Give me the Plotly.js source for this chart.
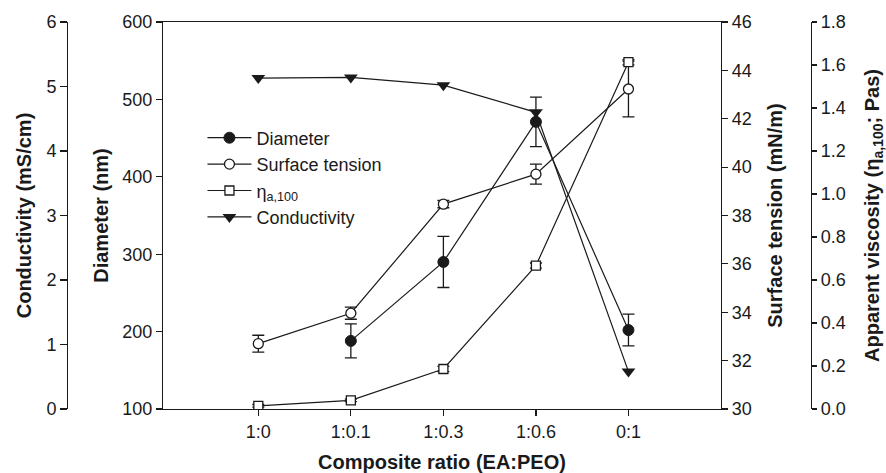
<!DOCTYPE html>
<html>
<head>
<meta charset="utf-8">
<script src="https://cdn.plot.ly/plotly-3.0.1.min.js"></script>
<style>html,body{margin:0;padding:0;background:#fff;}#chart{width:886px;height:473px;}</style>
</head>
<body>
<div id="chart"></div>
<script>
const categories = ["1:0", "1:0.1", "1:0.3", "1:0.6", "0:1"];
const catPos = [0, 1, 2, 3, 4];
const diameter = [null, 188, 290, 471, 202];
const diameterErr = [0, 22, 33, 32, 20.5];
const surfaceTension = [32.7, 33.96, 38.47, 39.71, 43.23];
const surfaceTensionErr = [0.35, 0.25, 0.15, 0.41, 1.15];
const viscosity = [0.015, 0.04, 0.186, 0.667, 1.613];
const viscosityErr = [0.006, 0.006, 0.012, 0.012, 0.012];
const conductivity = [5.13, 5.14, 5.02, 4.6, 0.58];

const W = 886, H = 473;
const FONT = "Liberation Sans, Arial, Helvetica, sans-serif";
const INK = "#1a1a1a";
const tickFont = {family: FONT, size: 18, color: INK};
const titleFont = {family: FONT, size: 20, color: INK, weight: 700};

function errBar(arr) {
  return {type: "data", array: arr, visible: true, color: INK, thickness: 1.3, width: 6};
}

const traces = [
  {
    name: "Diameter", x: catPos, y: diameter, yaxis: "y", type: "scatter", mode: "lines+markers",
    line: {color: INK, width: 1.2},
    marker: {symbol: "circle", size: 11, color: INK, line: {color: INK, width: 1}},
    error_y: errBar(diameterErr)
  },
  {
    name: "Surface tension", x: catPos, y: surfaceTension, yaxis: "y3", type: "scatter", mode: "lines+markers",
    line: {color: INK, width: 1.2},
    marker: {symbol: "circle", size: 10, color: "#ffffff", line: {color: INK, width: 1.3}},
    error_y: errBar(surfaceTensionErr)
  },
  {
    name: "η<sub>a,100</sub>", x: catPos, y: viscosity, yaxis: "y4", type: "scatter", mode: "lines+markers",
    line: {color: INK, width: 1.2},
    marker: {symbol: "square", size: 9, color: "#ffffff", line: {color: INK, width: 1.3}},
    error_y: errBar(viscosityErr)
  },
  {
    name: "Conductivity", x: catPos, y: conductivity, yaxis: "y2", type: "scatter", mode: "lines+markers",
    line: {color: INK, width: 1.2},
    marker: {symbol: "triangle-down", size: 12, color: INK, line: {color: INK, width: 0}}
  }
];

const baseY = {
  showgrid: false, zeroline: false, showline: true, linecolor: INK, linewidth: 1.2,
  ticks: "outside", ticklen: 6, tickwidth: 1.2, tickcolor: INK, tickfont: tickFont,
  automargin: false, fixedrange: true
};

const layout = {
  width: W, height: H,
  margin: {l: 0, r: 0, t: 22, b: 64, pad: 0},
  paper_bgcolor: "#ffffff", plot_bgcolor: "#ffffff",
  font: {family: FONT, color: INK},
  showlegend: true,
  legend: {
    x: 0.2285, y: 0.748, xanchor: "left", yanchor: "top",
    bgcolor: "rgba(0,0,0,0)", borderwidth: 0,
    font: {family: FONT, size: 18, color: INK},
    itemwidth: 44, tracegroupgap: 0
  },
  xaxis: {
    domain: [163 / W, 721 / W], range: [-1.03, 5.0],
    tickmode: "array", tickvals: catPos, ticktext: categories,
    showgrid: false, zeroline: false, showline: true, mirror: true, linecolor: INK, linewidth: 1.2,
    ticks: "outside", ticklen: 6, tickwidth: 1.2, tickcolor: INK, tickfont: tickFont,
    title: {text: "Composite ratio (EA:PEO)", font: titleFont, standoff: 14},
    automargin: false, fixedrange: true
  },
  yaxis: Object.assign({}, baseY, {
    range: [100, 600], dtick: 100, tick0: 100, anchor: "x", side: "left",
    title: {text: "Diameter (nm)", font: titleFont, standoff: 8}
  }),
  yaxis2: Object.assign({}, baseY, {
    range: [0, 6], dtick: 1, tick0: 0, overlaying: "y", anchor: "free", position: 67 / W, side: "left",
    ticklen: 7,
    title: {text: "Conductivity (mS/cm)", font: titleFont, standoff: 8}
  }),
  yaxis3: Object.assign({}, baseY, {
    range: [30, 46], dtick: 2, tick0: 30, overlaying: "y", anchor: "x", side: "right",
    title: {text: "Surface tension (mN/m)", font: titleFont, standoff: 17}
  }),
  yaxis4: Object.assign({}, baseY, {
    range: [0, 1.8], dtick: 0.2, tick0: 0, tickformat: ".1f", overlaying: "y", anchor: "free", position: 811 / W, side: "right",
    ticklen: 5,
    title: {text: "Apparent viscosity (η<sub>a,100</sub>; Pas)", font: titleFont, standoff: 24}
  })
};

Plotly.newPlot("chart", traces, layout, {displayModeBar: false, staticPlot: true});
</script>
</body>
</html>
